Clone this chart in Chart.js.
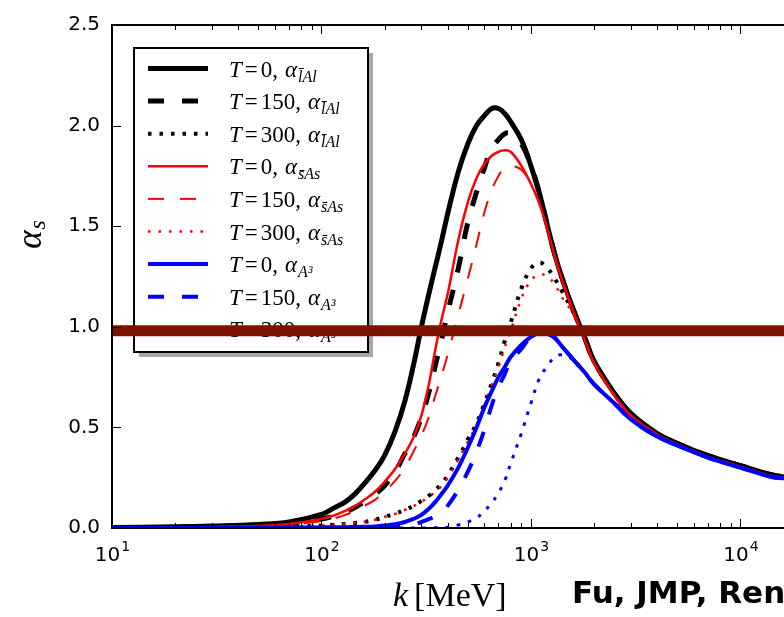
<!DOCTYPE html>
<html><head><meta charset="utf-8">
<script src="https://cdn.jsdelivr.net/npm/chart.js@4/dist/chart.umd.min.js"></script>
<style>html,body{margin:0;padding:0;background:#fff;overflow:hidden}#wrap{width:784px;height:617px}</style>
</head><body><div id="wrap"><canvas id="c" width="784" height="617"></canvas></div>
<script>
// ---- data ----
const kValues = [10,20,30,50,70,100,115,130,145,160,180,200,225,250,275,300,325,350,375,400,450,500,550,600,650,700,750,800,900,1000,1100,1200,1300,1400,1600,1800,2000,2500,3000,4000,5000,7000,10000,14000,17000];
const lAl_T0   = [0.003,0.006,0.010,0.018,0.030,0.068,0.10,0.13,0.171,0.22,0.286,0.36,0.483,0.63,0.81,1.00,1.16,1.30,1.43,1.56,1.77,1.91,2.00,2.05,2.085,2.085,2.06,2.02,1.93,1.80,1.66,1.50,1.36,1.25,1.08,0.95,0.83,0.67,0.57,0.47,0.42,0.36,0.31,0.265,0.25];
const lAl_T150 = [0.001,0.003,0.005,0.010,0.020,0.045,0.06,0.08,0.103,0.13,0.167,0.21,0.28,0.37,0.45,0.55,0.67,0.81,0.94,1.07,1.29,1.52,1.67,1.79,1.89,1.93,1.96,1.96,1.91,1.80,1.66,1.50,1.36,1.25,1.08,0.95,0.83,0.67,0.57,0.47,0.42,0.36,0.31,0.265,0.25];
const lAl_T300 = [0.000,0.001,0.002,0.004,0.008,0.012,0.016,0.020,0.025,0.030,0.041,0.055,0.071,0.090,0.11,0.135,0.16,0.19,0.22,0.26,0.35,0.44,0.52,0.62,0.72,0.82,0.93,1.02,1.19,1.29,1.32,1.29,1.24,1.18,1.07,0.95,0.83,0.67,0.57,0.47,0.42,0.36,0.31,0.265,0.25];
const sAs_T0   = [0.001,0.003,0.005,0.010,0.020,0.045,0.063,0.085,0.11,0.14,0.18,0.23,0.295,0.37,0.45,0.56,0.71,0.89,1.04,1.16,1.43,1.62,1.74,1.81,1.85,1.87,1.877,1.87,1.80,1.71,1.61,1.48,1.35,1.24,1.07,0.94,0.82,0.66,0.56,0.465,0.415,0.355,0.305,0.26,0.25];
const sAs_T150 = [0.001,0.002,0.004,0.008,0.015,0.035,0.048,0.065,0.085,0.11,0.14,0.18,0.235,0.30,0.38,0.46,0.55,0.66,0.76,0.86,1.06,1.24,1.41,1.57,1.68,1.75,1.79,1.80,1.78,1.71,1.61,1.48,1.35,1.24,1.07,0.94,0.82,0.66,0.56,0.465,0.415,0.355,0.305,0.26,0.25];
const sAs_T300 = [0.000,0.001,0.002,0.004,0.008,0.012,0.016,0.020,0.025,0.030,0.041,0.055,0.070,0.090,0.108,0.13,0.155,0.18,0.21,0.25,0.34,0.43,0.51,0.61,0.71,0.80,0.90,0.98,1.14,1.23,1.26,1.25,1.21,1.15,1.06,0.94,0.82,0.66,0.56,0.465,0.415,0.355,0.305,0.26,0.25];
const A3_T0    = [0.000,0.000,0.000,0.001,0.002,0.003,0.0035,0.004,0.005,0.006,0.008,0.012,0.019,0.030,0.045,0.065,0.095,0.13,0.17,0.21,0.30,0.40,0.50,0.60,0.68,0.75,0.80,0.85,0.91,0.95,0.97,0.965,0.945,0.905,0.835,0.775,0.715,0.62,0.54,0.455,0.41,0.35,0.30,0.255,0.245];
const A3_T150  = [0.000,0.000,0.000,0.000,0.001,0.001,0.0015,0.002,0.0025,0.003,0.004,0.005,0.007,0.010,0.018,0.030,0.044,0.060,0.083,0.11,0.19,0.28,0.38,0.49,0.61,0.70,0.765,0.83,0.89,0.95,0.97,0.965,0.945,0.905,0.835,0.775,0.715,0.62,0.54,0.455,0.41,0.35,0.30,0.255,0.245];
const A3_T300  = [0,0,0,0,0,0,0,0,0,0,0,0,0,0,0,0,0,0.001,0.002,0.004,0.015,0.030,0.050,0.085,0.125,0.175,0.235,0.32,0.47,0.62,0.745,0.805,0.85,0.86,0.835,0.775,0.715,0.62,0.54,0.455,0.41,0.35,0.30,0.255,0.245];
const bandLevel = 0.98;
const temperatures = [0,150,300];
const couplingSubs = ['l\u0304Al','s\u0304As','A\u00b3'];
const xTickValues = [10,100,1000,10000];
const xTickExponents = ['1','2','3','4'];
const yTickValues = [0,0.5,1.0,1.5,2.0,2.5];
const xMin = 10, xMax = 16150;

// ---- styles ----
const seriesValues = [lAl_T0,lAl_T150,lAl_T300,sAs_T0,sAs_T150,sAs_T300,A3_T0,A3_T150,A3_T300];
const colors = ['#000000','#ff0000','#0000ff'];
const widths = [[5,5,4],[2.5,2,2.5],[4,4,3]];
const dashes = [[],[16,18],[3.5,8]];
const redDashes = [[],[16,16],[2.5,8]];

const datasets = [];
seriesValues.forEach((vals,i)=>{
  const g = Math.floor(i/3), t = i%3;
  datasets.push({
    label: 'T=' + temperatures[t] + ', \u03b1_' + couplingSubs[g],
    temp: temperatures[t], sub: couplingSubs[g],
    data: kValues.map((k,j)=>({x:k,y:vals[j]})),
    borderColor: colors[g], backgroundColor: colors[g],
    borderWidth: widths[g][t],
    borderDash: g===1 ? redDashes[t] : dashes[t],
    pointRadius: 0, fill: false,
    tension: 0.4,
    order: 20 - i
  });
});
datasets.push({
  label: 'band', isBand: true,
  data: [{x:xMin,y:bandLevel},{x:xMax,y:bandLevel}],
  borderColor: '#7d1200', borderWidth: 11, pointRadius: 0, fill:false, order: 0
});

const framePlugin = {
  id:'frame',
  afterDatasetsDraw(chart){
    const ctx = chart.ctx, a = chart.chartArea, xs = chart.scales.x, ys = chart.scales.y;
    ctx.save();
    ctx.strokeStyle = '#000';
    ctx.lineWidth = 1;
    for (let e=1; e<=4; e++){
      for (let m=1; m<10; m++){
        const v = m*Math.pow(10,e);
        if (v > xMax) continue;
        const px = Math.round(xs.getPixelForValue(v))+0.5;
        const len = m===1 ? 9 : 5;
        ctx.beginPath(); ctx.moveTo(px,a.bottom); ctx.lineTo(px,a.bottom-len); ctx.stroke();
        ctx.beginPath(); ctx.moveTo(px,a.top); ctx.lineTo(px,a.top+len); ctx.stroke();
      }
    }
    yTickValues.forEach(v=>{
      const py = Math.round(ys.getPixelForValue(v))+0.5;
      ctx.beginPath(); ctx.moveTo(a.left,py); ctx.lineTo(a.left+9,py); ctx.stroke();
    });
    ctx.lineWidth = 2;
    ctx.beginPath();
    ctx.moveTo(a.right+2, a.top); ctx.lineTo(a.left, a.top); ctx.lineTo(a.left, a.bottom); ctx.lineTo(a.right+2, a.bottom);
    ctx.stroke();
    ctx.fillStyle = '#000'; ctx.textBaseline='alphabetic'; ctx.textAlign='left';
    xTickValues.forEach((v,i)=>{
      const px = xs.getPixelForValue(v);
      ctx.font = '20px "DejaVu Sans"'; const w1 = ctx.measureText('10').width;
      ctx.font = '14px "DejaVu Sans"'; const w2 = ctx.measureText(xTickExponents[i]).width;
      const x0 = px - (w1+w2)/2;
      ctx.font = '20px "DejaVu Sans"'; ctx.fillText('10', x0, 561);
      ctx.font = '14px "DejaVu Sans"'; ctx.fillText(xTickExponents[i], x0+w1+1, 551);
    });
    ctx.restore();
  }
};

const legendPlugin = {
  id:'boxLegend',
  beforeDatasetsDraw(chart){
    const ctx = chart.ctx;
    const L=134, T=48, W=234, H=304;
    ctx.save();
    ctx.fillStyle='#a8a8a8'; ctx.fillRect(L+5,T+5,W,H);
    ctx.fillStyle='#ffffff'; ctx.fillRect(L,T,W,H);
    ctx.strokeStyle='#000'; ctx.lineWidth=2; ctx.strokeRect(L,T,W,H);
    let row = 0;
    chart.data.datasets.forEach(ds=>{
      if (ds.isBand) return;
      const y = 68.5 + row*32.6;
      ctx.save();
      ctx.strokeStyle = ds.borderColor; ctx.lineWidth = ds.borderWidth;
      ctx.setLineDash(ds.borderDash||[]);
      ctx.beginPath(); ctx.moveTo(148,y); ctx.lineTo(208,y); ctx.stroke();
      ctx.restore();
      let x = 229, by = y + 8;
      ctx.fillStyle='#000'; ctx.textAlign='left'; ctx.textBaseline='alphabetic';
      ctx.font='italic 23px "Liberation Serif"'; ctx.fillText('T',x,by); x += ctx.measureText('T').width+3;
      ctx.font='23px "Liberation Serif"'; ctx.fillText('=',x,by); x += ctx.measureText('=').width+3;
      const ts = String(ds.temp)+','; ctx.fillText(ts,x,by); x += ctx.measureText(ts).width+7;
      ctx.font='italic 23px "Liberation Serif"'; ctx.fillText('\u03b1',x,by); x += ctx.measureText('\u03b1').width+1;
      ctx.font='italic 16px "Liberation Serif"'; ctx.fillText(ds.sub,x,by+5);
      row++;
    });
    ctx.restore();
  }
};

const textPlugin = {
  id:'texts',
  afterDraw(chart){
    const ctx = chart.ctx;
    ctx.save();
    ctx.fillStyle='#000'; ctx.textBaseline='alphabetic'; ctx.textAlign='left';
    let x = 393, y = 606;
    ctx.font='italic 34px "Liberation Serif"'; ctx.fillText('k',x,y); x += ctx.measureText('k').width+6;
    ctx.font='34px "Liberation Serif"'; ctx.fillText('[MeV]',x,y);
    ctx.translate(41, 234); ctx.rotate(-Math.PI/2);
    ctx.font='italic 35px "Liberation Serif"';
    const wa = ctx.measureText('\u03b1').width;
    ctx.font='italic 24px "Liberation Serif"';
    const ws = ctx.measureText('s').width;
    const x0 = -(wa+ws)/2 - 1;
    ctx.font='italic 35px "Liberation Serif"'; ctx.fillText('\u03b1',x0,0);
    ctx.font='italic 24px "Liberation Serif"'; ctx.fillText('s',x0+wa+1,4);
    ctx.restore();
    ctx.save();
    ctx.fillStyle='#000'; ctx.font='bold 31px "DejaVu Sans"'; ctx.textAlign='left';
    ctx.fillText('Fu, JMP, Rennecke',572,603);
    ctx.restore();
  }
};

new Chart(document.getElementById('c'), {
  type:'line',
  data:{datasets},
  options:{
    responsive:false, animation:false, devicePixelRatio:1,
    layout:{padding:{left:0,right:0,top:25,bottom:0}},
    plugins:{legend:{display:false}, tooltip:{enabled:false}},
    scales:{
      x:{type:'logarithmic', min:xMin, max:xMax,
        grid:{display:false, drawTicks:false}, border:{display:false},
        afterBuildTicks:s=>{ s.ticks = xTickValues.map(v=>({value:v})); },
        afterFit:s=>{ s.height = 89; },
        ticks:{display:false}
      },
      y:{type:'linear', min:0, max:2.5,
        grid:{display:false, drawTicks:false}, border:{display:false},
        afterBuildTicks:s=>{ s.ticks = yTickValues.map(v=>({value:v})); },
        afterFit:s=>{ s.width = 112; },
        ticks:{padding:12, color:'#000', font:{family:'DejaVu Sans', size:20}, callback:v=>Number(v).toFixed(1)}
      }
    }
  },
  plugins:[legendPlugin, framePlugin, textPlugin]
});
</script>
</body></html>
